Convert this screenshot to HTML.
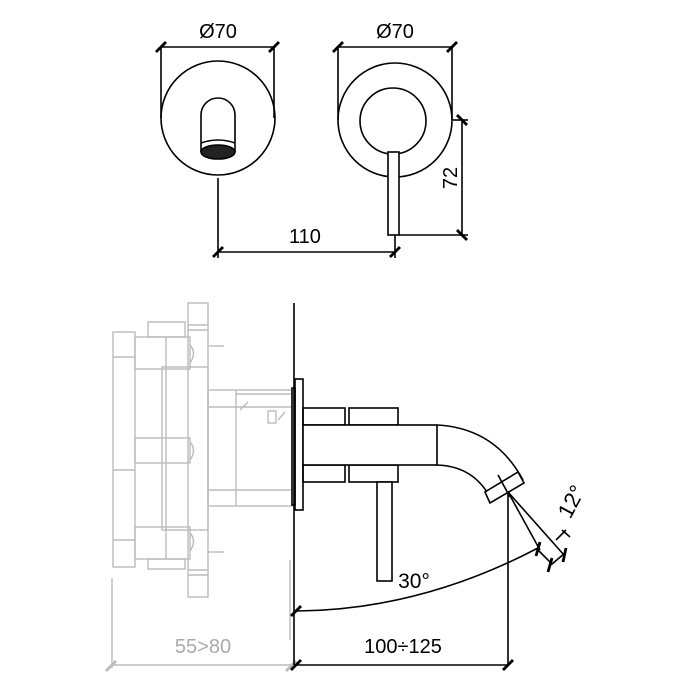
<!DOCTYPE html>
<html><head><meta charset="utf-8"><style>
html,body{margin:0;padding:0;background:#fff;width:700px;height:700px;overflow:hidden}
svg{display:block}
text{font-family:"Liberation Sans",Arial,sans-serif}
</style></head><body>
<svg width="700" height="700" viewBox="0 0 700 700" xmlns="http://www.w3.org/2000/svg">
<g fill="none" stroke="#000" stroke-width="1.6">
<!-- top left view -->
<circle cx="218" cy="118" r="57"/>
<line x1="161" y1="47" x2="161" y2="118"/><line x1="274" y1="47" x2="274" y2="118"/>
<line x1="161" y1="47" x2="274" y2="47"/>
<path d="M201 152 V115 A17 17 0 0 1 235 115 V152"/>
<path d="M201 143 Q218 137 235 143"/>
<ellipse cx="218" cy="152" rx="17" ry="7" fill="#222"/>
<!-- top right -->
<circle cx="395" cy="120" r="57"/>
<circle cx="393" cy="121" r="33"/>
<line x1="338" y1="47" x2="338" y2="120"/><line x1="452" y1="47" x2="452" y2="120"/>
<line x1="338" y1="47" x2="452" y2="47"/>
<rect x="388" y="152" width="11" height="83" fill="#fff"/>
<!-- 110 -->
<line x1="218" y1="178" x2="218" y2="258"/><line x1="395" y1="235" x2="395" y2="258"/>
<line x1="218" y1="252" x2="395" y2="252"/>
<!-- 72 -->
<line x1="453" y1="120" x2="468" y2="120"/><line x1="399" y1="235" x2="468" y2="235"/>
<line x1="462" y1="120" x2="462" y2="235"/>
</g>
<g stroke="#000" stroke-width="2.8">
<line x1="156" y1="52" x2="166" y2="42"/><line x1="269" y1="52" x2="279" y2="42"/>
<line x1="333" y1="52" x2="343" y2="42"/><line x1="447" y1="52" x2="457" y2="42"/>
<line x1="213" y1="257" x2="223" y2="247"/><line x1="390" y1="257" x2="400" y2="247"/>
<line x1="457" y1="115" x2="467" y2="125"/><line x1="457" y1="230" x2="467" y2="240"/>
</g>
<g font-size="20" fill="#000" text-anchor="middle">
<text x="218" y="38">Ø70</text><text x="395" y="38">Ø70</text>
<text x="305" y="243">110</text>
<text transform="translate(457,178) rotate(-90)">72</text>
</g>

<!-- gray rough-in body -->
<g fill="none" stroke="#bbb" stroke-width="1.4">
<rect x="113" y="332" width="22" height="235"/>
<line x1="113" y1="357" x2="135" y2="357"/><line x1="113" y1="470" x2="135" y2="470"/><line x1="113" y1="540" x2="135" y2="540"/>
<rect x="188" y="303" width="20" height="294"/>
<line x1="188" y1="325" x2="208" y2="325"/><line x1="188" y1="330" x2="208" y2="330"/>
<line x1="188" y1="570" x2="208" y2="570"/><line x1="188" y1="575" x2="208" y2="575"/>
<rect x="148" y="322" width="37" height="15"/>
<rect x="135" y="337" width="55" height="32"/><line x1="166" y1="337" x2="166" y2="369"/>
<path d="M190 345 q7 8 0 18"/>
<rect x="135" y="438" width="55" height="25"/><path d="M190 442 q7 8 0 18"/>
<rect x="135" y="527" width="55" height="32"/><line x1="166" y1="527" x2="166" y2="559"/>
<path d="M190 533 q7 8 0 18"/>
<rect x="162" y="367" width="46" height="163"/><line x1="166" y1="367" x2="166" y2="530"/>
<rect x="148" y="559" width="37" height="10"/>
<line x1="208" y1="346" x2="224" y2="346"/><line x1="208" y1="552" x2="224" y2="552"/>
<rect x="208" y="390" width="84" height="116"/>
<line x1="208" y1="407" x2="292" y2="407"/><line x1="236" y1="390" x2="236" y2="506"/>
<line x1="208" y1="490" x2="292" y2="490"/>
<line x1="236" y1="394" x2="292" y2="394"/>
<line x1="240" y1="410" x2="248" y2="402"/><line x1="278" y1="420" x2="285" y2="412"/>
<rect x="268" y="411" width="8" height="12"/>
<line x1="112" y1="578" x2="112" y2="668"/>
<line x1="112" y1="665" x2="292" y2="665"/>
<line x1="290" y1="560" x2="290" y2="640"/>
</g>
<g stroke="#bbb" stroke-width="2.8">
<line x1="106" y1="671" x2="116" y2="661"/><line x1="286" y1="671" x2="296" y2="661"/>
</g>
<text x="203" y="653" font-size="20" fill="#aaa" text-anchor="middle">55&gt;80</text>

<!-- side view -->
<g fill="none" stroke="#000" stroke-width="1.6">
<line x1="294" y1="303" x2="294" y2="665"/>
<rect x="295" y="379" width="8" height="131" fill="#fff"/>
<rect x="292" y="388" width="3" height="117"/>
<rect x="303" y="408" width="42" height="17"/><rect x="349" y="408" width="49" height="17"/>
<rect x="303" y="465" width="42" height="17"/><rect x="349" y="465" width="49" height="17"/>
<rect x="303" y="425" width="134" height="40" fill="#fff"/>
<path d="M437 425 Q495 428 523 480"/>
<path d="M437 465 Q470 466 487 492"/>
<path d="M485 492 L490 503 L524 483 L518 472 Z" fill="#fff"/>
<line x1="498" y1="475" x2="510" y2="497"/>
<line x1="508" y1="492" x2="508" y2="665"/>
<line x1="508" y1="492" x2="540" y2="550"/>
<line x1="508" y1="492" x2="564" y2="555"/>
<path d="M538 550 L552 564 L565 553"/>
<rect x="377" y="482" width="15" height="99" fill="#fff"/>
<path d="M297 611 Q420 610 538 548"/>
<line x1="296" y1="665" x2="508" y2="665"/>
<line x1="556" y1="540" x2="566" y2="530"/>
<line x1="562" y1="530" x2="570" y2="537"/>
</g>
<g stroke="#000" stroke-width="2.8">
<line x1="291" y1="616" x2="301" y2="606"/>
<line x1="291" y1="670" x2="301" y2="660"/><line x1="503" y1="670" x2="513" y2="660"/>
<line x1="536" y1="556" x2="540" y2="542"/>
<line x1="548" y1="572" x2="552" y2="558"/>
<line x1="563" y1="562" x2="566" y2="548"/>
</g>
<g fill="#000" text-anchor="middle">
<text x="414" y="588" font-size="21">30°</text>
<text x="403" y="653" font-size="20">100÷125</text>
<text transform="translate(578,505) rotate(-62)" font-size="22">12°</text>
</g>
</svg>
</body></html>
